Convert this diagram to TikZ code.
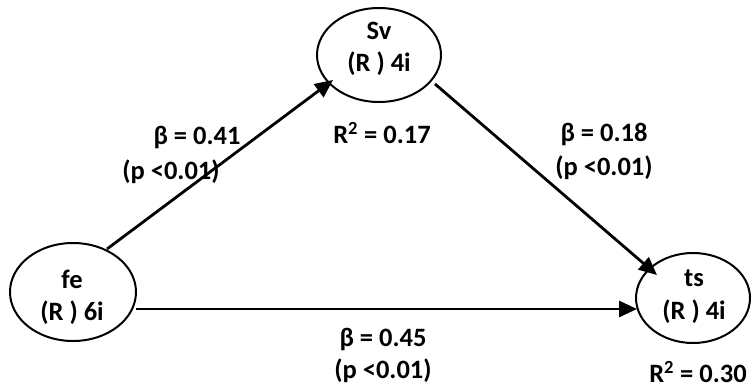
\documentclass[tikz,border=0pt]{standalone}
\usepackage{fontspec}
\setmainfont{Carlito}
\usetikzlibrary{arrows.meta}
\begin{document}
\begin{tikzpicture}[x=1pt,y=-1pt,
  lbl/.style={font=\fontsize{26.5}{30}\selectfont\bfseries,inner sep=0pt},
  arr/.style={line width=2.8pt,-{Triangle[length=18pt,width=16pt]}}]
\useasboundingbox (0,0) rectangle (751,388);
\draw[line width=2pt] (379,55) ellipse [x radius=62, y radius=47];
\coordinate (sv) at (379,55);
\draw[line width=2pt] (73,292) ellipse [x radius=63, y radius=49];
\coordinate (fe) at (73,292);
\draw[line width=2pt] (693,298) ellipse [x radius=57, y radius=45];
\coordinate (ts) at (693,298);
\node[lbl] (svt1) at (379,31) {Sv};
\node[lbl] (svt2) at (379,64) {(R ) 4i};
\node[lbl] (fet1) at (72,279) {fe};
\node[lbl] (fet2) at (72,313) {(R ) 6i};
\node[lbl] (tst1) at (694,278) {ts};
\node[lbl] (tst2) at (694,312) {(R ) 4i};
\coordinate (a1s) at (107,249);
\coordinate (a1e) at (333,80);
\coordinate (a2s) at (435,84);
\coordinate (a2e) at (657,275);
\coordinate (a3s) at (136,309);
\coordinate (a3e) at (637,309);
\draw[arr] (a1s) -- (a1e);
\draw[arr] (a2s) -- (a2e);
\draw[arr] (a3s) -- (a3e);
\node[lbl] (b1) at (197,137) {β = 0.41};
\node[lbl] (p1) at (171,172) {(p <0.01)};
\node[lbl] (r1) at (382,133) {R\textsuperscript{2} = 0.17};
\node[lbl] (b2) at (604,134) {β = 0.18};
\node[lbl] (p2) at (604,168) {(p <0.01)};
\node[lbl] (b3) at (383,339) {β = 0.45};
\node[lbl] (p3) at (383,371) {(p <0.01)};
\node[lbl] (r2) at (698,372) {R\textsuperscript{2} = 0.30};
\end{tikzpicture}
\end{document}
